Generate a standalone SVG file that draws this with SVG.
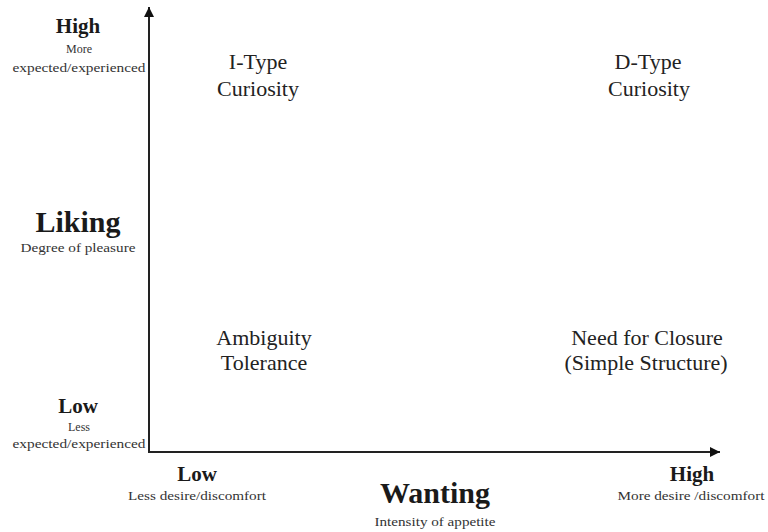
<svg xmlns="http://www.w3.org/2000/svg" width="768" height="532" viewBox="0 0 768 532">
<defs>
<marker id="ah" viewBox="0 0 10 10" refX="10" refY="5" markerWidth="5.5" markerHeight="5" markerUnits="strokeWidth" orient="auto">
<path d="M0,0 L10,5 L0,10 z" fill="#111"/>
</marker>
</defs>
<style>
text{font-family:"Liberation Serif","Times New Roman",serif;fill:#1a1a1a;text-anchor:middle}
.big{font-size:30px;font-weight:bold}
.mid{font-size:21px;font-weight:bold}
.sm{font-size:12px;fill:#333}
.q{font-size:22px;fill:#222}
.axis{stroke:#222;stroke-width:2;fill:none}
</style>
<rect width="768" height="532" fill="#fff"/>
<g id="connectors">
<path class="axis" d="M149,452 L149,7" marker-end="url(#ah)"/>
<path class="axis" d="M148,452 L720,452" marker-end="url(#ah)"/>
</g>
<g id="y-high">
<text class="mid" x="78" y="33">High</text>
<text class="sm" x="79" y="53">More</text>
<text class="sm" x="79" y="72" textLength="133" lengthAdjust="spacingAndGlyphs">expected/experienced</text>
</g>
<g id="y-label">
<text class="big" x="78" y="232">Liking</text>
<text class="sm" x="78" y="252" textLength="115" lengthAdjust="spacingAndGlyphs">Degree of pleasure</text>
</g>
<g id="y-low">
<text class="mid" x="78" y="413">Low</text>
<text class="sm" x="79" y="431">Less</text>
<text class="sm" x="79" y="448" textLength="133" lengthAdjust="spacingAndGlyphs">expected/experienced</text>
</g>
<g id="x-low">
<text class="mid" x="197" y="481">Low</text>
<text class="sm" x="197" y="500" textLength="138" lengthAdjust="spacingAndGlyphs">Less desire/discomfort</text>
</g>
<g id="x-label">
<text class="big" x="435" y="503">Wanting</text>
<text class="sm" x="435" y="526" textLength="121" lengthAdjust="spacingAndGlyphs">Intensity of appetite</text>
</g>
<g id="x-high">
<text class="mid" x="692" y="481">High</text>
<text class="sm" x="691" y="500" textLength="147" lengthAdjust="spacingAndGlyphs">More desire /discomfort</text>
</g>
<g id="i-type">
<text class="q" x="258" y="69">I-Type</text>
<text class="q" x="258" y="96">Curiosity</text>
</g>
<g id="d-type">
<text class="q" x="648" y="69">D-Type</text>
<text class="q" x="649" y="96">Curiosity</text>
</g>
<g id="ambiguity">
<text class="q" x="264" y="345">Ambiguity</text>
<text class="q" x="264" y="370">Tolerance</text>
</g>
<g id="closure">
<text class="q" x="647" y="345">Need for Closure</text>
<text class="q" x="646" y="370">(Simple Structure)</text>
</g>
</svg>
